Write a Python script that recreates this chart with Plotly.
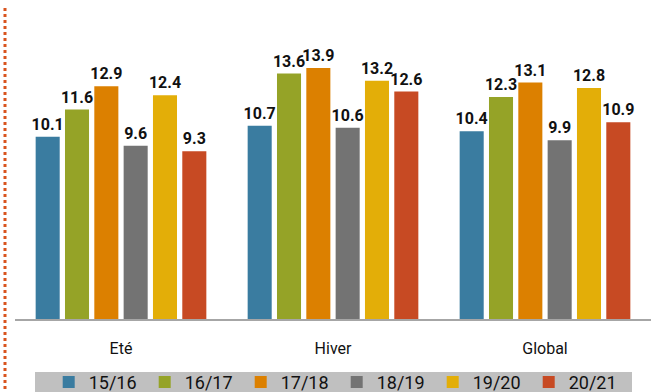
import plotly.graph_objects as go

categories = ["Eté", "Hiver", "Global"]
seasons = ["15/16", "16/17", "17/18", "18/19", "19/20", "20/21"]
values = {
    "15/16": [10.1, 10.7, 10.4],
    "16/17": [11.6, 13.6, 12.3],
    "17/18": [12.9, 13.9, 13.1],
    "18/19": [9.6, 10.6, 9.9],
    "19/20": [12.4, 13.2, 12.8],
    "20/21": [9.3, 12.6, 10.9],
}
colors = ["#3a7ca0", "#95a327", "#dc8000", "#737373", "#e3ae08", "#c74a23"]

FONT = "Roboto, Liberation Sans, sans-serif"

fig = go.Figure()
for s, c in zip(seasons, colors):
    fig.add_trace(go.Bar(
        name=s, x=categories, y=values[s],
        marker=dict(color=c, line=dict(width=0)),
        text=[f"{v:.1f}" for v in values[s]],
        textposition="outside",
        constraintext="none",
        textfont=dict(family=FONT, size=16, color="#111111", weight="bold"),
        cliponaxis=False,
    ))

W, H = 654, 392
ml, mr, mt, mb = 15, 3, 39, 73
ph = H - mt - mb
pw = W - ml - mr

fig.update_layout(
    width=W, height=H,
    margin=dict(l=ml, r=mr, t=mt, b=mb, autoexpand=False),
    paper_bgcolor="white", plot_bgcolor="white",
    barmode="group", bargap=0.17, bargroupgap=0.18,
    font=dict(family=FONT, color="#111111"),
    xaxis=dict(
        showline=True, linecolor="#a6a6a6", linewidth=2,
        ticks="", tickfont=dict(size=16, family=FONT, color="#111111"),
        ticklabelstandoff=14,
    ),
    yaxis=dict(range=[0, ph / 18.05], visible=False),
    showlegend=True,
    legend=dict(
        orientation="h", x=0.053, xanchor="left", y=-0.16, yanchor="top",
        bgcolor="rgba(0,0,0,0)", font=dict(size=18, family=FONT, color="#111111"),
        entrywidth=51, entrywidthmode="pixels", itemwidth=30,
        tracegroupgap=0,
    ),
    shapes=[
        # grey band behind the legend
        dict(type="rect", xref="paper", yref="paper",
             x0=(35 - ml) / pw, x1=(632 - ml) / pw,
             y0=(mt + ph - 372) / ph, y1=(mt + ph - 400) / ph,
             fillcolor="#c0c0c0", line=dict(width=0), layer="below"),
        # dotted frame on the left edge
        dict(type="line", xref="paper", yref="paper",
             x0=(5 - ml) / pw, x1=(5 - ml) / pw,
             y0=(mt + ph - 8) / ph, y1=(mt + ph - 392) / ph,
             line=dict(color="#d9541e", width=3, dash="dot")),
    ],
)

fig.write_html("out.html")
